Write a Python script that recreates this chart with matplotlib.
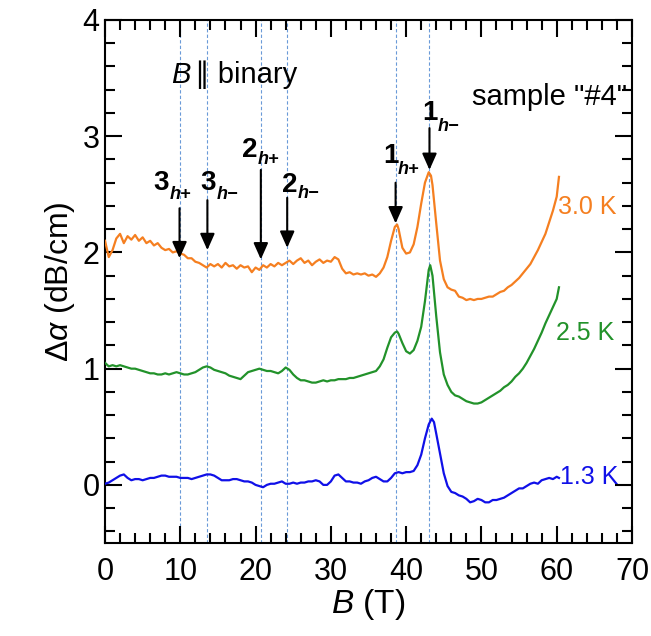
import numpy as np
import matplotlib
matplotlib.use('Agg')
import matplotlib.pyplot as plt
from matplotlib.ticker import MultipleLocator

plt.rcParams['font.family'] = ['Liberation Sans', 'DejaVu Sans']
plt.rcParams['mathtext.fontset'] = 'custom'
plt.rcParams['mathtext.rm'] = 'Liberation Sans'
plt.rcParams['mathtext.it'] = 'Liberation Sans:italic'
plt.rcParams['mathtext.bf'] = 'Liberation Sans:bold'

# 3.0 K (offset +2)
b30 = [0, 0.5, 1.0, 1.5, 2.0, 2.5, 3.0, 3.5, 4.0, 4.5, 5.0, 5.5, 6.0, 6.5, 7.0, 7.5, 8.0, 8.5, 9.0, 9.5,
       10.0, 10.5, 11.0, 11.5, 12.0, 12.5, 13.0, 13.5, 14.0, 14.5, 15.0, 15.5, 16.0, 16.5, 17.0, 17.5, 18.0, 18.5, 19.0, 19.5,
       20.0, 20.5, 21.0, 21.5, 22.0, 22.5, 23.0, 23.5, 24.0, 24.5, 25.0, 25.5, 26.0, 26.5, 27.0, 27.5, 28.0, 28.5, 29.0, 29.5,
       30.0, 30.5, 31.0, 31.5, 32.0, 32.5, 33.0, 33.5, 34.0, 34.5, 35.0, 35.5, 36.0, 36.5, 37.0, 37.5, 38.0, 38.5, 38.8, 39.0, 39.5,
       40.0, 40.5, 41.0, 41.5, 42.0, 42.5, 43.0, 43.3, 43.5, 44.0, 44.5, 45.0, 45.5, 46.0, 46.5, 47.0, 47.5, 48.0, 48.5, 49.0, 49.5,
       50.0, 50.5, 51.0, 51.5, 52.0, 52.5, 53.0, 53.5, 54.0, 54.5, 55.0, 55.5, 56.0, 56.5, 57.0, 57.5, 58.0, 58.5, 59.0, 59.5,
       60.0, 60.3]
a30 = [2.10, 1.96, 2.02, 2.12, 2.16, 2.08, 2.14, 2.11, 2.15, 2.10, 2.13, 2.08, 2.10, 2.06, 2.08, 2.04, 2.02, 2.03, 2.00, 2.01,
       1.99, 1.98, 1.95, 1.95, 1.92, 1.91, 1.89, 1.87, 1.90, 1.88, 1.90, 1.87, 1.91, 1.88, 1.89, 1.86, 1.89, 1.87, 1.88, 1.83,
       1.87, 1.85, 1.89, 1.87, 1.90, 1.88, 1.91, 1.89, 1.91, 1.93, 1.90, 1.93, 1.95, 1.91, 1.93, 1.89, 1.92, 1.94, 1.91, 1.93,
       1.92, 1.96, 1.94, 1.86, 1.82, 1.83, 1.81, 1.82, 1.81, 1.82, 1.80, 1.81, 1.79, 1.82, 1.87, 1.96, 2.10, 2.22, 2.24, 2.20, 2.04,
       1.99, 2.00, 2.07, 2.22, 2.42, 2.60, 2.69, 2.66, 2.58, 2.25, 1.93, 1.77, 1.70, 1.68, 1.67, 1.62, 1.61, 1.59, 1.60, 1.59, 1.60,
       1.60, 1.61, 1.62, 1.62, 1.64, 1.66, 1.67, 1.70, 1.72, 1.75, 1.78, 1.82, 1.86, 1.90, 1.96, 2.02, 2.09, 2.16, 2.26, 2.36,
       2.48, 2.65]

# 2.5 K (offset +1)
b25 = [0, 0.5, 1.0, 1.5, 2.0, 2.5, 3.0, 3.5, 4.0, 4.5, 5.0, 5.5, 6.0, 6.5, 7.0, 7.5, 8.0, 8.5, 9.0, 9.5,
       10.0, 10.5, 11.0, 11.5, 12.0, 12.5, 13.0, 13.5, 14.0, 14.5, 15.0, 15.5, 16.0, 16.5, 17.0, 17.5, 18.0, 18.5, 19.0, 19.5,
       20.0, 20.5, 21.0, 21.5, 22.0, 22.5, 23.0, 23.5, 24.0, 24.5, 25.0, 25.5, 26.0, 26.5, 27.0, 27.5, 28.0, 28.5, 29.0, 29.5,
       30.0, 30.5, 31.0, 31.5, 32.0, 32.5, 33.0, 33.5, 34.0, 34.5, 35.0, 35.5, 36.0, 36.5, 37.0, 37.5, 38.0, 38.5, 38.8, 39.0, 39.5,
       40.0, 40.5, 41.0, 41.5, 42.0, 42.5, 43.0, 43.2, 43.5, 44.0, 44.5, 45.0, 45.5, 46.0, 46.5, 47.0, 47.5, 48.0, 48.5, 49.0, 49.5,
       50.0, 50.5, 51.0, 51.5, 52.0, 52.5, 53.0, 53.5, 54.0, 54.5, 55.0, 55.5, 56.0, 56.5, 57.0, 57.5, 58.0, 58.5, 59.0, 59.5,
       60.0, 60.3]
a25 = [1.05, 1.02, 1.03, 1.02, 1.03, 1.02, 1.01, 1.00, 1.00, 0.99, 0.98, 0.97, 0.96, 0.96, 0.95, 0.95, 0.96, 0.95, 0.96, 0.97,
       0.96, 0.95, 0.95, 0.96, 0.97, 0.99, 1.01, 1.02, 1.01, 0.99, 0.98, 0.97, 0.96, 0.94, 0.93, 0.92, 0.91, 0.94, 0.97, 0.98,
       0.99, 1.00, 0.99, 0.98, 0.98, 0.97, 0.96, 0.98, 1.01, 0.99, 0.95, 0.92, 0.90, 0.90, 0.89, 0.88, 0.88, 0.89, 0.90, 0.89,
       0.90, 0.90, 0.91, 0.91, 0.91, 0.92, 0.92, 0.93, 0.94, 0.95, 0.96, 0.97, 0.98, 1.02, 1.08, 1.18, 1.27, 1.31, 1.32, 1.30, 1.22,
       1.15, 1.13, 1.16, 1.24, 1.36, 1.58, 1.85, 1.89, 1.80, 1.45, 1.14, 0.95, 0.86, 0.80, 0.77, 0.76, 0.74, 0.72, 0.71, 0.70, 0.70,
       0.71, 0.73, 0.75, 0.77, 0.79, 0.81, 0.84, 0.86, 0.89, 0.93, 0.96, 1.00, 1.05, 1.11, 1.17, 1.24, 1.31, 1.39, 1.46, 1.53,
       1.60, 1.70]

# 1.3 K (no offset)
b13 = [0, 0.5, 1.0, 1.5, 2.0, 2.5, 3.0, 3.5, 4.0, 4.5, 5.0, 5.5, 6.0, 6.5, 7.0, 7.5, 8.0, 8.5, 9.0, 9.5,
       10.0, 10.5, 11.0, 11.5, 12.0, 12.5, 13.0, 13.5, 14.0, 14.5, 15.0, 15.5, 16.0, 16.5, 17.0, 17.5, 18.0, 18.5, 19.0, 19.5,
       20.0, 20.5, 21.0, 21.5, 22.0, 22.5, 23.0, 23.5, 24.0, 24.5, 25.0, 25.5, 26.0, 26.5, 27.0, 27.5, 28.0, 28.5, 29.0, 29.5,
       30.0, 30.5, 31.0, 31.5, 32.0, 32.5, 33.0, 33.5, 34.0, 34.5, 35.0, 35.5, 36.0, 36.5, 37.0, 37.5, 38.0, 38.5, 39.0, 39.5,
       40.0, 40.5, 41.0, 41.5, 42.0, 42.5, 43.0, 43.4, 43.7, 44.0, 44.5, 45.0, 45.5, 46.0, 46.5, 47.0, 47.5, 48.0, 48.5, 49.0, 49.5,
       50.0, 50.5, 51.0, 51.5, 52.0, 52.5, 53.0, 53.5, 54.0, 54.5, 55.0, 55.5, 56.0, 56.5, 57.0, 57.5, 58.0, 58.5, 59.0, 59.5,
       60.0, 60.3]
a13 = [0.01, 0.02, 0.04, 0.06, 0.08, 0.09, 0.06, 0.04, 0.05, 0.05, 0.04, 0.05, 0.06, 0.06, 0.07, 0.08, 0.08, 0.07, 0.07, 0.07,
       0.06, 0.06, 0.06, 0.05, 0.06, 0.07, 0.08, 0.09, 0.09, 0.08, 0.06, 0.04, 0.04, 0.04, 0.05, 0.05, 0.04, 0.03, 0.03, 0.02,
       0.00, -0.01, -0.02, 0.00, 0.01, 0.01, 0.02, 0.03, 0.01, 0.01, 0.02, 0.01, 0.02, 0.02, 0.03, 0.03, 0.04, 0.03, 0.00, 0.00,
       0.03, 0.08, 0.09, 0.06, 0.03, 0.03, 0.02, 0.02, 0.01, 0.03, 0.04, 0.06, 0.07, 0.05, 0.03, 0.03, 0.06, 0.10, 0.11, 0.10,
       0.11, 0.11, 0.12, 0.17, 0.26, 0.40, 0.52, 0.57, 0.54, 0.44, 0.27, 0.10, -0.01, -0.06, -0.07, -0.09, -0.10, -0.12, -0.15, -0.14, -0.12,
       -0.13, -0.15, -0.15, -0.13, -0.13, -0.12, -0.11, -0.09, -0.07, -0.05, -0.03, -0.03, -0.01, 0.01, 0.02, 0.01, 0.04, 0.05, 0.06, 0.05,
       0.07, 0.06]

# resonance positions (T)
lines_B = [9.9, 13.6, 20.7, 24.2, 38.6, 43.1]
# arrows: label number, subscript, x, arrow top, arrow tip
arrows = [('3', 'h+', 9.9, 2.38, 1.95),
          ('3', 'h\u2212', 13.6, 2.45, 2.02),
          ('2', 'h+', 20.7, 2.71, 1.94),
          ('2', 'h\u2212', 24.2, 2.47, 2.04),
          ('1', 'h+', 38.6, 2.60, 2.25),
          ('1', 'h\u2212', 43.1, 3.07, 2.71)]
# label positions (number x, number y, subscript x, subscript y)
lab_pos = [(6.4, 2.60, 8.6, 2.50),
           (12.6, 2.60, 14.9, 2.50),
           (18.2, 2.88, 20.3, 2.80),
           (23.5, 2.58, 25.6, 2.51),
           (36.9, 2.83, 38.9, 2.71),
           (42.2, 3.20, 44.2, 3.08)]

c_or = '#f57f20'
c_gr = '#22922a'
c_bl = '#1010e8'

fig = plt.figure(figsize=(6.51, 6.36), dpi=100)
ax = fig.add_axes([0.1613, 0.1462, 0.8095, 0.8224])

for xb in lines_B:
    ax.axvline(xb, color='#6a9ad8', lw=0.8, ls=(0, (3, 2)), zorder=1)

ax.plot(b30, a30, color=c_or, lw=1.6, zorder=3)
ax.plot(b25, a25, color=c_gr, lw=1.6, zorder=3)
ax.plot(b13, a13, color=c_bl, lw=1.6, zorder=3)

for (num, sub, xa, ytop, ytip), (nx, ny, sx, sy) in zip(arrows, lab_pos):
    ax.annotate('', xy=(xa, ytip), xytext=(xa, ytop),
                arrowprops=dict(arrowstyle='-|>,head_length=0.45,head_width=0.2',
                                color='k', lw=1.5, mutation_scale=22,
                                shrinkA=0, shrinkB=0), zorder=4)
    ax.text(nx, ny, num, fontsize=20, fontweight='bold', ha='left', va='center')
    ax.text(sx, sy, sub, fontsize=13, fontweight='bold', fontstyle='italic',
            ha='left', va='center')

ax.text(60.2, 2.39, '3.0 K', color=c_or, fontsize=18, ha='left', va='center')
ax.text(59.9, 1.31, '2.5 K', color=c_gr, fontsize=18, ha='left', va='center')
ax.text(60.4, 0.07, '1.3 K', color=c_bl, fontsize=18, ha='left', va='center')
ax.text(69.4, 3.34, 'sample "#4"', fontsize=21, ha='right', va='center')
ax.text(8.8, 3.53, 'B', fontsize=21, fontstyle='italic', ha='left', va='center')
ax.text(12.0, 3.53, '\u2225 binary', fontsize=21, ha='left', va='center')

ax.set_xlim(0, 70)
ax.set_ylim(-0.5, 4)
ax.xaxis.set_major_locator(MultipleLocator(10))
ax.xaxis.set_minor_locator(MultipleLocator(2))
ax.yaxis.set_major_locator(MultipleLocator(1))
ax.yaxis.set_minor_locator(MultipleLocator(0.2))
ax.tick_params(which='both', direction='in', top=True, right=True, width=1.5, labelsize=22)
ax.tick_params(which='major', length=12)
ax.tick_params(which='minor', length=7)
ax.tick_params(axis='x', pad=10)
ax.tick_params(axis='y', pad=4)
for s in ax.spines.values():
    s.set_linewidth(1.5)

ax.set_xlabel(r'$\it{B}$ (T)', fontsize=24, labelpad=0)
ax.set_ylabel(r'$\it{\Delta\alpha}$ (dB/cm)', fontsize=23, labelpad=4)

fig.savefig('out.png', dpi=100)
